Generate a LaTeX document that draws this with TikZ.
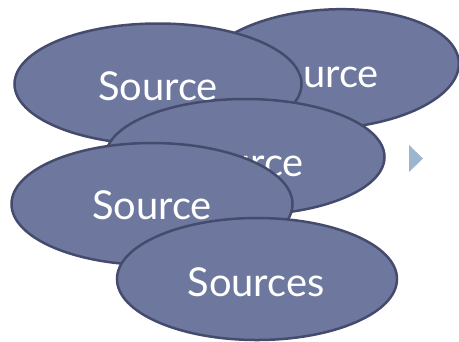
\documentclass[tikz,border=0pt]{standalone}
\usepackage{fontspec}
\setmainfont{Lato}
\usetikzlibrary{shapes.geometric}
\definecolor{srcfill}{RGB}{110,120,158}
\definecolor{srcline}{RGB}{68,75,108}
\definecolor{tri}{RGB}{158,182,205}
\tikzset{
  src/.style={ellipse, draw=srcline, fill=srcfill, line width=2.5bp, inner sep=0pt},
  lbl/.style={text=white, inner sep=0pt, font=\fontsize{40}{42}\selectfont}
}
\begin{document}
\begin{tikzpicture}[x=1bp,y=-1bp]
\useasboundingbox (0,0) rectangle (459,341);
\node[src, minimum width=258bp, minimum height=119bp, rotate=3] (e2) at (330,69) {};
\node[lbl] (t2) at (319,73) {Source};
\node[src, minimum width=287bp, minimum height=121bp] (e1) at (158,84) {};
\node[lbl] (t1) at (158,86) {Source};
\node[src, minimum width=279bp, minimum height=116bp] (e3) at (245,157) {};
\node[lbl] (t3) at (244,162) {Source};
\node[src, minimum width=281bp, minimum height=122bp] (e4) at (152,204) {};
\node[lbl] (t4) at (152,205) {Source};
\node[src, minimum width=280bp, minimum height=122bp] (e5) at (257,279) {};
\node[lbl] (t5) at (256,282) {Sources};
\fill[tri] (409,145) -- (423,158.5) -- (409,172) -- cycle;
\end{tikzpicture}
\end{document}
